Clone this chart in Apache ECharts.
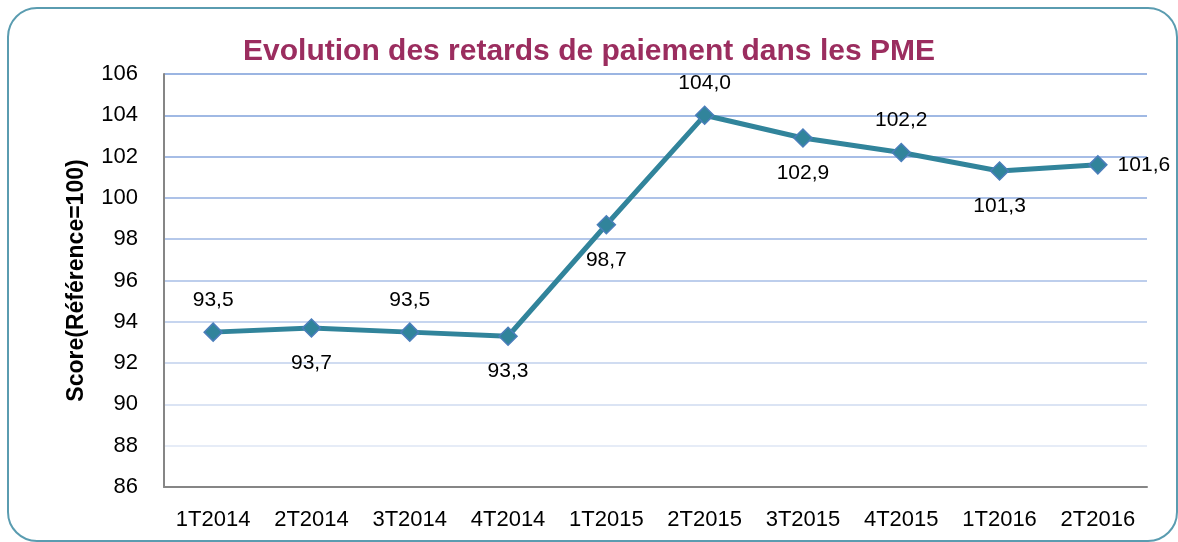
<!DOCTYPE html>
<html>
<head>
<meta charset="utf-8">
<script src="https://cdn.jsdelivr.net/npm/echarts@6/dist/echarts.min.js"></script>
<style>
    html, body { margin: 0; padding: 0; background: #fff; }
    #frame {
        position: absolute; left: 7px; top: 7px; width: 1171px; height: 535px;
        box-sizing: border-box; border: 2px solid #5a9cb0; border-radius: 30px;
    }
    #chart { position: absolute; left: 0; top: 0; width: 1178px; height: 542px; }
</style>
</head>
<body>
<div id="frame"></div>
<div id="chart"></div>
<script>
// categories (trimestres)
var categories = ['1T2014', '2T2014', '3T2014', '4T2014', '1T2015', '2T2015', '3T2015', '4T2015', '1T2016', '2T2016'];
// score (référence = 100)
var scores = [93.5, 93.7, 93.5, 93.3, 98.7, 104.0, 102.9, 102.2, 101.3, 101.6];
// où poser l'étiquette de chaque point
var labelSides = ['top', 'bottom', 'top', 'bottom', 'bottom', 'top', 'bottom', 'top', 'bottom', 'right'];

var fontName = 'Liberation Sans';

var chart = echarts.init(document.getElementById('chart'));
chart.setOption({
    animation: false,
    title: {
        text: 'Evolution des retards de paiement dans les PME',
        left: 'center',
        top: 32,
        textStyle: {
            color: '#9b2d5f',
            fontSize: 30,
            fontWeight: 'bold',
            fontFamily: fontName
        }
    },
    grid: {
        left: 164,
        right: 31,
        top: 74,
        bottom: 55
    },
    xAxis: {
        type: 'category',
        data: categories,
        boundaryGap: true,
        axisLine: { lineStyle: { color: '#868686', width: 2 } },
        axisTick: { show: false },
        axisLabel: {
            color: '#000',
            fontSize: 22,
            fontFamily: fontName,
            margin: 22
        }
    },
    yAxis: {
        type: 'value',
        min: 86,
        max: 106,
        interval: 2,
        name: 'Score(Référence=100)',
        nameLocation: 'middle',
        nameGap: 76,
        nameTextStyle: {
            color: '#000',
            fontSize: 23,
            fontWeight: 'bold',
            fontFamily: fontName
        },
        axisLine: { show: true, lineStyle: { color: '#868686', width: 2 } },
        axisTick: { show: false },
        axisLabel: {
            color: '#000',
            fontSize: 22,
            fontFamily: fontName,
            margin: 26
        },
        splitLine: {
            show: true,
            lineStyle: {
                width: 2,
                // plus clair vers le bas
                color: ['#868686', '#e6ecf7', '#dbe4f4', '#d0dcf1', '#c6d5ef', '#bdceec',
                    '#b5c8ea', '#adc2e8', '#a6bde6', '#a0b9e4', '#9bb5e2']
            }
        }
    },
    series: [{
        type: 'line',
        data: scores.map(function (v, i) {
            var side = labelSides[i];
            return {
                value: v,
                label: {
                    position: side,
                    distance: side === 'top' ? 12 : (side === 'right' ? 10 : 15)
                }
            };
        }),
        symbol: 'diamond',
        symbolSize: 18,
        lineStyle: { color: '#31849b', width: 5 },
        itemStyle: { color: '#31849b', borderColor: '#4a7ebb', borderWidth: 1.5 },
        label: {
            show: true,
            color: '#000',
            fontSize: 21,
            fontFamily: fontName,
            formatter: function (p) {
                return p.value.toFixed(1).replace('.', ',');
            }
        },
        z: 3
    }]
});
</script>
</body>
</html>
